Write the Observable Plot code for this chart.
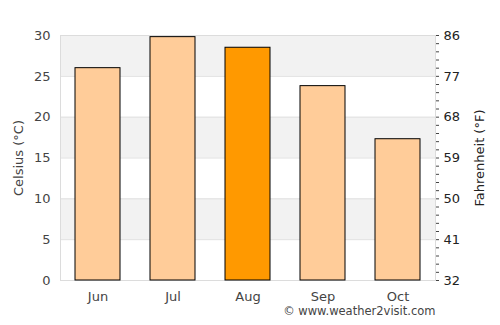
<!DOCTYPE html>
<html><head><meta charset="utf-8">
<script src="https://cdn.jsdelivr.net/npm/d3@7"></script>
<script src="https://cdn.jsdelivr.net/npm/@observablehq/plot@0.6"></script>
<style>body{margin:0;background:#fff;font-family:"DejaVu Sans",sans-serif;}</style>
</head><body><div id="chart"></div>
<script>
const months = ["Jun","Jul","Aug","Sep","Oct"];
const celsius = [26, 29.8, 28.5, 23.8, 17.3];
const highlight = "Aug";
const cTicks = [0,5,10,15,20,25,30];
const fLabels = [32,41,50,59,68,77,86];
const minorTicks = d3.range(0,31,1);
const bands = [[5,10],[15,20],[25,30]];
const footer = "© www.weather2visit.com";

const data = months.map((m,i)=>({month:m, c:celsius[i]}));
const bandData = bands.map(([a,b])=>({a,b}));

const chart = Plot.plot({
  width: 500, height: 325,
  marginLeft: 60, marginRight: 65, marginTop: 35, marginBottom: 45,
  style: {fontFamily: "DejaVu Sans, sans-serif", fontSize: "13px", color: "#444", background: "#fff"},
  x: {domain: months, paddingInner: 0.4, paddingOuter: 0.2, round: false, label: null},
  y: {domain: [0,30], label: null},
  marks: [
    Plot.rect(bandData, {y1: "a", y2: "b", fill: "#f2f2f2"}),
    Plot.ruleY(cTicks, {stroke: "#e0e0e0"}),
    Plot.frame({stroke: "#dcdcdc"}),
    Plot.barY(data, {x: "month", y: "c", fill: d => d.month === highlight ? "#ff9900" : "#ffcc99", stroke: "#000", strokeWidth: 1}),
    Plot.axisX({tickSize: 0, tickPadding: 11, fontSize: 13, fill: "#444", label: null}),
    Plot.axisY({anchor: "left", ticks: cTicks, tickSize: 0, tickPadding: 10, fontSize: 13, fill: "#444",
      label: "Celsius (°C)", labelAnchor: "center", labelArrow: "none", labelOffset: 47}),
    Plot.axisY({anchor: "right", ticks: minorTicks, tickSize: 3, text: null, stroke: "#444", label: null}),
    Plot.axisY({anchor: "right", ticks: cTicks, tickSize: 0, tickPadding: 8, fontSize: 13, fill: "#222",
      tickFormat: (d) => fLabels[cTicks.indexOf(d)],
      label: "Fahrenheit (°F)", labelAnchor: "center", labelArrow: "none", labelOffset: 48}),
    Plot.text([footer], {frameAnchor: "bottom-right", dy: 34, textAnchor: "end", fontSize: 11.5, fill: "#444"})
  ]
});
document.getElementById("chart").appendChild(chart);
</script></body></html>
